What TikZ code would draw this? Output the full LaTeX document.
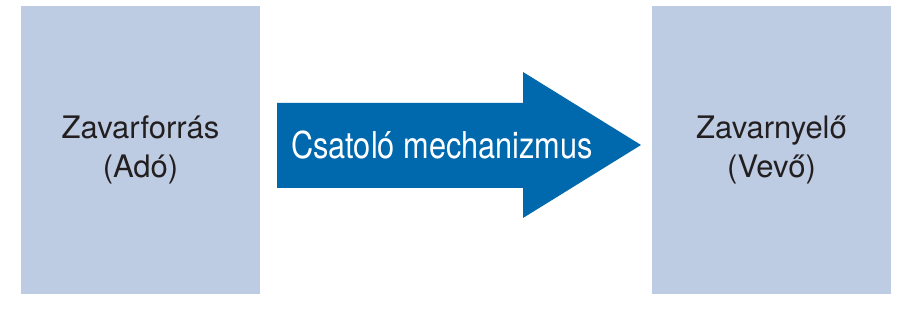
\documentclass[tikz,border=0pt]{standalone}
\usepackage{fontspec}
\setmainfont{TeX Gyre Heros}
\newfontfamily\condfont[FakeStretch=0.83]{TeX Gyre Heros}
\usepackage{xcolor}
\definecolor{box-bg}{HTML}{BDCCE3}
\definecolor{arrow-blue}{HTML}{0068AC}
\definecolor{label-text}{HTML}{231F20}

\begin{document}
\begin{tikzpicture}[x=1pt, y=1pt,
    every node/.style={font=\fontsize{31}{39}\selectfont, text=label-text},
    party/.style={fill=box-bg, minimum width=239pt, minimum height=288pt, align=center}]
    \useasboundingbox (0,0) rectangle (912,323);
    \node[party] (src) at (140.5,173) {Zavarforrás\\(Adó)};
    \node[party] (dst) at (771.5,173) {Zavarnyelő\\(Vevő)};
    % coupling arrow between the two boxes
    \fill[arrow-blue] (277,220) -- (523,220) -- (523,251) -- (641,178)
      -- (523,105) -- (523,135) -- (277,135) -- cycle;
    \node[text=white, font=\condfont\fontsize{37}{44}\selectfont] (coupling) at (442,178) {Csatoló mechanizmus};
\end{tikzpicture}
\end{document}
